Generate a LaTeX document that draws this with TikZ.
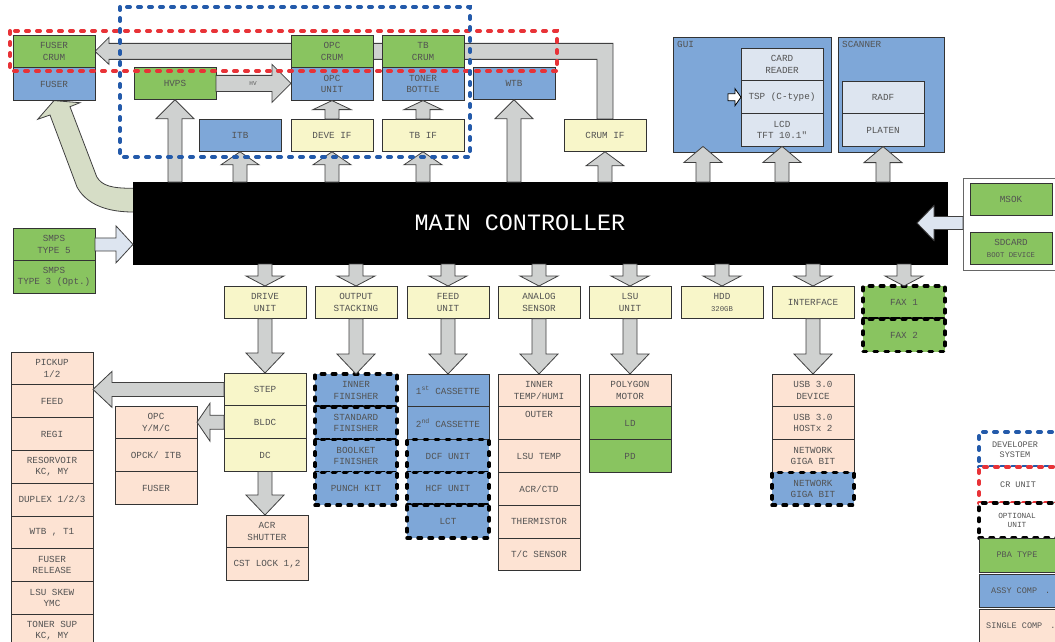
\documentclass[tikz,border=0pt]{standalone}
\usepackage{fontspec}
\newfontfamily\mono{Liberation Mono}
\usetikzlibrary{positioning,calc}

\definecolor{pbagreen}{RGB}{137,196,96}
\definecolor{assyblue}{RGB}{126,167,216}
\definecolor{ifyellow}{RGB}{248,246,201}
\definecolor{partpeach}{RGB}{253,227,211}
\definecolor{panelblue}{RGB}{221,229,240}
\definecolor{arrgray}{RGB}{207,209,208}
\definecolor{fusergreen}{RGB}{214,221,198}
\definecolor{devblue}{RGB}{35,90,170}
\definecolor{crred}{RGB}{232,50,55}

\newcommand\boxfont{\mono\fontsize{9.3}{11.2}\selectfont}
\newcommand\smallfont{\fontsize{7.3}{8.5}\selectfont}

\pgfdeclarelayer{bg}
\pgfsetlayers{bg,main}

% block arrows: [style]{tail}{tip}{head length}{shaft half width}{head half width}
\newcommand\vblock[6][arr]{%
  \path[#1] let \p1=#2, \p2=#3, \p3=($#3!#4pt!#2$) in
    ({\x1-#5pt},\y1) -- ({\x1-#5pt},\y3) -- ({\x1-#6pt},\y3) -- (\x1,\y2)
    -- ({\x1+#6pt},\y3) -- ({\x1+#5pt},\y3) -- ({\x1+#5pt},\y1) -- cycle;}
\newcommand\hblock[6][arr]{%
  \path[#1] let \p1=#2, \p2=#3, \p3=($#3!#4pt!#2$) in
    (\x1,{\y1+#5pt}) -- (\x3,{\y1+#5pt}) -- (\x3,{\y1+#6pt}) -- (\x2,\y1)
    -- (\x3,{\y1-#6pt}) -- (\x3,{\y1-#5pt}) -- (\x1,{\y1-#5pt}) -- cycle;}

\tikzset{
  box/.style={draw=black!80, line width=0.9pt, minimum width=82pt, minimum height=32.8pt,
    inner sep=1pt, outer sep=0pt, align=center, font=\boxfont, text=black!68, anchor=north west},
  grnbox/.style={box, fill=pbagreen},
  bluebox/.style={box, fill=assyblue},
  ifbox/.style={box, fill=ifyellow},
  partbox/.style={box, fill=partpeach},
  panelbox/.style={box, fill=panelblue},
  optline/.style={draw=black, line width=3.5pt, dash pattern=on 3.5pt off 7.5pt, line cap=round},
  devline/.style={draw=devblue, line width=4pt, dash pattern=on 3pt off 8pt, line cap=round},
  crline/.style={draw=crred, line width=4pt, dash pattern=on 3pt off 8pt, line cap=round},
  arr/.style={draw=black!75, line width=0.8pt, fill=arrgray},
  lightarr/.style={draw=black!75, line width=0.8pt, fill=panelblue},
  whitearr/.style={draw=black, line width=0.8pt, fill=white},
  fuserarr/.style={draw=black!75, line width=0.8pt, fill=fusergreen},
  legtext/.style={font=\mono\fontsize{8.5}{10.5}\selectfont, text=black!68, align=center, inner sep=0pt}
}

\begin{document}
\begin{tikzpicture}[x=1pt, y=-1pt]
\useasboundingbox (0,0) rectangle (1055,642);
\begin{pgfonlayer}{bg}
  \fill[white] (0,0) rectangle (1055,642);
\end{pgfonlayer}

% developer / CR units
\node[grnbox] (fusercrum) at (13,35) {FUSER\\CRUM};
\node[bluebox, below=0pt of fusercrum] (fuser) {FUSER};
\node[grnbox] (hvps) at (134,67) {HVPS};
\node[grnbox] (opccrum) at (291,35) {OPC\\CRUM};
\node[bluebox, below=0pt of opccrum] (opcunit) {OPC\\UNIT};
\node[grnbox] (tbcrum) at (382,35) {TB\\CRUM};
\node[bluebox, below=0pt of tbcrum] (toner) {TONER\\BOTTLE};
\node[bluebox] (wtb) at (473,67) {WTB};
\node[bluebox] (itb) at (199,119) {ITB};
\node[ifbox] (deveif) at (291,119) {DEVE IF};
\node[ifbox] (tbif) at (382,119) {TB IF};
\node[ifbox] (crumif) at (564,119) {CRUM IF};

% GUI and scanner
\node[bluebox, minimum width=158pt, minimum height=115pt,
  label={[anchor=north west, font=\boxfont, text=black!68, inner sep=4pt]north west:GUI}] (gui) at (673,37) {};
\node[panelbox] (cardreader) at (741,48) {CARD\\READER};
\node[panelbox, below=0pt of cardreader] (tsp) {TSP (C-type)};
\node[panelbox, below=0pt of tsp] (lcd) {LCD\\TFT 10.1"};
\node[bluebox, minimum width=106pt, minimum height=115pt,
  label={[anchor=north west, font=\boxfont, text=black!68, inner sep=4pt]north west:SCANNER}] (scanner) at (838,37) {};
\node[panelbox] (radf) at (842,81) {RADF};
\node[panelbox, below=0pt of radf] (platen) {PLATEN};

% main board
\node[draw=black, fill=black, minimum width=814pt, minimum height=82pt, anchor=north west, outer sep=0pt] (main) at (133,182) {};
\node[font=\mono\fontsize{23.4}{27}\selectfont, text=white] (maintitle) at ($(main.center)+(-20,0)$) {MAIN CONTROLLER};

\node[draw=black!60, fill=white, line width=0.8pt, minimum width=110pt, minimum height=92pt, anchor=north west] (sdgroup) at (963,178) {};
\node[grnbox] (msok) at (970,183) {MSOK};
\node[grnbox] (sdcard) at (970,232) {SDCARD\\{\smallfont BOOT DEVICE}};

\node[grnbox] (smps5) at (13,228) {SMPS\\TYPE 5};
\node[grnbox, below=0pt of smps5] (smps3) {SMPS\\TYPE 3 (Opt.)};

% second row
\node[ifbox] (drive) at (224,286) {DRIVE\\UNIT};
\node[ifbox] (outstack) at (315,286) {OUTPUT\\STACKING};
\node[ifbox] (feedunit) at (407,286) {FEED\\UNIT};
\node[ifbox] (analog) at (498,286) {ANALOG\\SENSOR};
\node[ifbox] (lsuunit) at (589,286) {LSU\\UNIT};
\node[ifbox] (hdd) at (681,286) {HDD\\{\smallfont 320GB}};
\node[ifbox] (iface) at (772,286) {INTERFACE};
\node[grnbox, optline] (fax1) at (863,286) {FAX 1};
\node[grnbox, optline, below=0pt of fax1] (fax2) {FAX 2};

% drive unit
\node[ifbox] (step) at (224,373) {STEP};
\node[ifbox, below=0pt of step] (bldc) {BLDC};
\node[ifbox, below=0pt of bldc] (dc) {DC};
\node[partbox] (acr) at (226,515) {ACR\\SHUTTER};
\node[partbox, below=0pt of acr] (cstlock) {CST LOCK 1,2};
\node[partbox] (opcymc) at (115,406) {OPC\\Y/M/C};
\node[partbox, below=0pt of opcymc] (opckitb) {OPCK/ ITB};
\node[partbox, below=0pt of opckitb] (fuserdrv) {FUSER};

\node[partbox] (m1) at (11,352) {PICKUP\\1/2};
\node[partbox, below=0pt of m1] (m2) {FEED};
\node[partbox, below=0pt of m2] (m3) {REGI};
\node[partbox, below=0pt of m3] (m4) {RESORVOIR\\KC, MY};
\node[partbox, below=0pt of m4] (m5) {DUPLEX 1/2/3};
\node[partbox, below=0pt of m5] (m6) {WTB , T1};
\node[partbox, below=0pt of m6] (m7) {FUSER\\RELEASE};
\node[partbox, below=0pt of m7] (m8) {LSU SKEW\\YMC};
\node[partbox, below=0pt of m8] (m9) {TONER SUP\\KC, MY};

% output stacking
\node[bluebox, optline] (innerfin) at (315,374) {INNER\\FINISHER};
\node[bluebox, optline, below=0pt of innerfin] (stdfin) {STANDARD\\FINISHER};
\node[bluebox, optline, below=0pt of stdfin] (bookfin) {BOOLKET\\FINISHER};
\node[bluebox, optline, below=0pt of bookfin] (punch) {PUNCH KIT};

% feed unit
\node[bluebox] (cas1) at (407,374) {1\textsuperscript{st} CASSETTE};
\node[bluebox, below=0pt of cas1] (cas2) {2\textsuperscript{nd} CASSETTE};
\node[bluebox, optline, below=0pt of cas2] (dcf) {DCF UNIT};
\node[bluebox, optline, below=0pt of dcf] (hcf) {HCF UNIT};
\node[bluebox, optline, below=0pt of hcf] (lct) {LCT};

% analog sensor
\node[partbox] (innertemp) at (498,374) {INNER\\TEMP/HUMI};
\node[partbox, below=0pt of innertemp] (outer) {OUTER\\[6pt]};
\node[partbox, below=0pt of outer] (lsutemp) {LSU TEMP};
\node[partbox, below=0pt of lsutemp] (acrctd) {ACR/CTD};
\node[partbox, below=0pt of acrctd] (thermistor) {THERMISTOR};
\node[partbox, below=0pt of thermistor] (tcsensor) {T/C SENSOR};

% lsu
\node[partbox] (polygon) at (589,374) {POLYGON\\MOTOR};
\node[grnbox, below=0pt of polygon] (ld) {LD};
\node[grnbox, below=0pt of ld] (pd) {PD};

% interface
\node[partbox] (usbdev) at (772,374) {USB 3.0\\DEVICE};
\node[partbox, below=0pt of usbdev] (usbhost) {USB 3.0\\HOSTx 2};
\node[partbox, below=0pt of usbhost] (net1) {NETWORK\\GIGA BIT};
\node[bluebox, optline, below=0pt of net1] (net2) {NETWORK\\GIGA BIT};

% legend
\node[box, fill=white, devline, minimum width=96pt, minimum height=35pt] (legdev) at (979,432) {};
\node[legtext] (legdevtxt) at ($(legdev.west)+(36,0)$) {DEVELOPER\\SYSTEM};
\node[box, fill=white, crline, minimum width=96pt, minimum height=36pt] (legcr) at (979,467) {};
\node[legtext] (legcrtxt) at ($(legcr.west)+(39,0)$) {CR UNIT};
\node[box, fill=white, optline, minimum width=96pt, minimum height=35pt] (legopt) at (979,503) {};
\node[legtext, font=\mono\fontsize{7.8}{9.5}\selectfont] (legopttxt) at ($(legopt.west)+(38,0)$) {OPTIONAL\\UNIT};
\node[grnbox, minimum width=96pt, minimum height=34pt] (legpba) at (979,538) {};
\node[legtext] (legpbatxt) at ($(legpba.west)+(38,0)$) {PBA TYPE};
\node[bluebox, minimum width=96pt, minimum height=33pt] (legassy) at (979,574) {};
\node[legtext, anchor=west] (legassytxt) at ($(legassy.west)+(12,0)$) {ASSY COMP\hspace{8pt}.};
\node[partbox, minimum width=96pt, minimum height=34pt] (legsingle) at (979,609) {};
\node[legtext, anchor=west] (legsingletxt) at ($(legsingle.west)+(7,0)$) {SINGLE COMP\hspace{8pt}.};

% connectors
\vblock{(hvps.south |- main.north)}{(hvps.south)}{19}{7}{19}
\vblock{(itb.south |- main.north)}{(itb.south)}{13}{7}{19}
\vblock{(deveif.south |- main.north)}{(deveif.south)}{13}{7}{19}
\vblock{(deveif.north)}{(opcunit.south)}{9}{7}{19}
\vblock{(tbif.south |- main.north)}{(tbif.south)}{13}{7}{19}
\vblock{(tbif.north)}{(toner.south)}{9}{7}{19}
\vblock{(wtb.south |- main.north)}{(wtb.south)}{19}{7}{19}
\vblock{(crumif.south |- main.north)}{(crumif.south)}{14}{7}{19}
\coordinate (guiin) at ($(gui.south west)+(30,0)$);
\vblock{(guiin |- main.north)}{(guiin |- lcd.south)}{16}{7}{19}
\vblock{(lcd.south |- main.north)}{(lcd.south)}{16}{7}{19}
\vblock{(platen.south |- main.north)}{(platen.south)}{16}{7}{19}
\coordinate (tspin) at ($(tsp.west)+(-13,0)$);
\hblock[whitearr]{(tspin)}{(tsp.west)}{6}{3.5}{8.5}

\foreach \u in {drive,outstack,feedunit,analog,lsuunit,hdd,iface,fax1}
  {\vblock{(\u.north |- main.south)}{(\u.north)}{10}{7}{19}}
\vblock{(drive.south)}{(step.north)}{20}{7}{19}
\vblock{(outstack.south)}{(innerfin.north)}{20}{7}{19}
\vblock{(feedunit.south)}{(cas1.north)}{20}{7}{19}
\vblock{(analog.south)}{(innertemp.north)}{20}{7}{19}
\vblock{(lsuunit.south)}{(polygon.north)}{20}{7}{19}
\vblock{(iface.south)}{(usbdev.north)}{20}{7}{19}
\vblock{(dc.south)}{(acr.north)}{20}{7}{19}
\hblock{(step.west)}{(step.west -| m1.east)}{19}{7}{18}
\hblock{(bldc.west)}{(bldc.west -| opcymc.east)}{13}{7}{19}
\hblock{(hvps.east)}{(opcunit.west)}{19}{8}{19}
\node[font=\mono\fontsize{6}{7}\selectfont, text=black!65] (hvlabel) at (253,84) {HV};
\hblock[lightarr]{(smps5.east)}{(smps5.east -| main.west)}{17}{6.5}{18.5}
\coordinate (msokin) at ($(main.east)+(-30,0)$);
\hblock[lightarr]{(sdgroup.west |- main.east)}{(msokin)}{17}{6.5}{17.5}

\begin{pgfonlayer}{bg}
  \path[arr] ($(crumif.north)+(-8,0)$) |- ($(fusercrum.east)+(14,8)$) -- ++(0,5) -- (fusercrum.east)
    -- ++(14,-14) -- ++(0,6) -| ($(crumif.north)+(8,0)$) -- cycle;
  \path[fuserarr] (133,212) .. controls (100,212) and (84,200) .. (77,187) -- (50,115) -- (37.7,119.3)
    -- (fuser.south) -- (80,102.7) -- (70,106.7) -- (96.7,176.7) .. controls (102,186) and (112,188.3) .. (133,188.3);
\end{pgfonlayer}

% unit groups
\draw[crline] (10,31) rectangle (557,71);
\draw[devline] (120,7) rectangle (470,157);
\end{tikzpicture}
\end{document}
